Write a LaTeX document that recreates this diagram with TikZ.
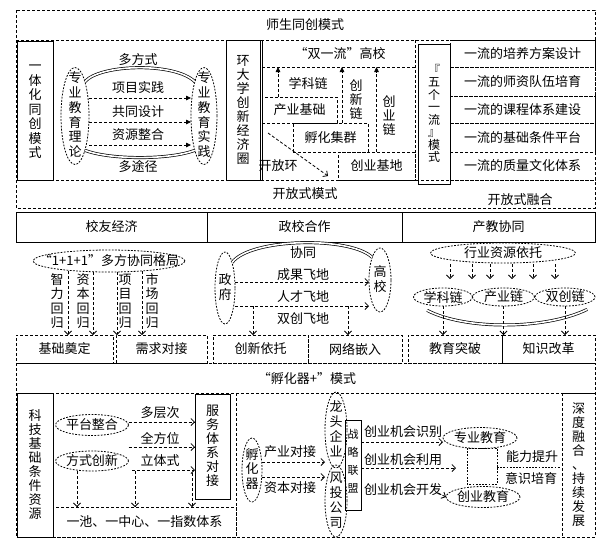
\documentclass[tikz,border=0pt]{standalone}
\usepackage{fontspec}
\setmainfont{Noto Sans CJK SC}
\usetikzlibrary{arrows.meta,shapes.geometric,calc}
\makeatletter
\newcommand\vstk[2][1.5pt]{\vbox{\offinterlineskip\def\vgap{#1}\vstk@a#2\@nil}}
\def\vstk@a#1{\ifx#1\@nil\else\hbox to 1em{\hss\vrule width0pt height.86em depth.14em\smash{#1}\hss}\kern\vgap\expandafter\vstk@a\fi}
\makeatother
\begin{document}
\begin{tikzpicture}[x=1pt,y=-1pt,
  every node/.style={inner sep=0pt,outer sep=0pt,font=\fontsize{13}{14.5}\selectfont},
  vtn/.style={font=\fontsize{12}{13}\selectfont},
  vts/.style={font=\fontsize{11}{13}\selectfont},
  dsh/.style={draw,dash pattern=on 3pt off 2pt,line width=0.8pt},
  sld/.style={draw,line width=1pt},
  dtl/.style={draw,dash pattern=on 1.8pt off 1.4pt,line width=0.8pt},
  ov/.style={ellipse,dtl,minimum width=#1},
  darr/.style={dash pattern=on 3pt off 2pt,line width=0.8pt,-{Straight Barb[length=3.5pt,width=7pt]}},
  farr/.style={dash pattern=on 3pt off 2pt,line width=0.8pt,-{Triangle[length=5pt,width=4.5pt]}},
  dbl/.style={double,double distance=1.6pt,line width=0.7pt},
]
\fill[white] (0,0) rectangle (606,550);
\useasboundingbox (0,0) rectangle (606,550);

% ================= TOP SECTION =================
\draw[dsh] (16,10) rectangle (595,208);
\draw[dsh] (16,40) -- (595,40);
\draw[dsh] (16,180) -- (595,180);
\node (t1) at (305,25) {师生同创模式};
\node (t2) at (305,194) {开放式模式};
\node (t3) at (520,200) {开放式融合};

\node[sld,minimum width=36,minimum height=139] (yt) at (35,110.5) {\vstk{一体化同创模式}};
\node[ov=28,minimum height=97] (zl) at (75,116) {};
\node (zlt) at (zl) {\vstk[1.8pt]{专业教育理论}};
\node[ov=26,minimum height=97] (zs) at (204,116) {};
\node (zst) at (zs) {\vstk[1.8pt]{专业教育实践}};
\node (dfs) at (138,60) {多方式};
\node (xm) at (138,88) {项目实践};
\node (gt) at (138,112) {共同设计};
\node (zy) at (138,135) {资源整合};
\node (dtj) at (138,167) {多途径};
\draw[farr] (zl.east |- 0,98) -- (zs.west |- 0,98);
\draw[farr] (zl.east |- 0,122) -- (zs.west |- 0,122);
\draw[farr] (zl.east |- 0,145) -- (zs.west |- 0,145);
\draw[dbl] (zl.north east) .. controls (100,64) and (175,62) .. (zs.north west);
\draw[dbl] (zl.south east) .. controls (110,160) and (170,160) .. (zs.south west);

\node[sld,minimum width=34,minimum height=140] (hd) at (243,110) {\vstk[1pt]{环大学创新经济圈}};
\draw[sld] (262,40) -- (262,180);
\draw[dsh] (415,40) -- (415,180);
\node[sld,vtn,minimum width=32,minimum height=140] (wg) at (434,114) {\vstk[0.5pt]{『五个一流』模式}};

\node[dsh,minimum width=145,minimum height=27] (f1) at (522.5,53.5) {一流的培养方案设计};
\node[dsh,minimum width=145,minimum height=29] (f2) at (522.5,81.5) {一流的师资队伍培育};
\node[dsh,minimum width=145,minimum height=27] (f3) at (522.5,109.5) {一流的课程体系建设};
\node[dsh,minimum width=145,minimum height=29] (f4) at (522.5,137.5) {一流的基础条件平台};
\node[dsh,minimum width=145,minimum height=28] (f5) at (522.5,166) {一流的质量文化体系};

\node (sy) at (340,54) {“双一流”高校};
\draw[dsh] (262,67) -- (415,67);
\node[dsh,minimum width=75,minimum height=26] (cyjc) at (299.5,110) {产业基础};
\node[dsh,minimum width=75,minimum height=29] (fhjq) at (330.5,137.5) {孵化集群};
\node[dsh,minimum width=77,minimum height=28] (cyjd) at (376.5,166) {创业基地};
\node (xkl) at (308,83) {学科链};
\node (cxl) at (356,100) {\vstk[1pt]{创新链}};
\node (cyl) at (389,116) {\vstk[1pt]{创业链}};
\node (kfh) at (278,166) {开放环};
\draw[farr] ($(cyjc.north west)+(16,0)$) -- ++(0,-30);
\draw[farr] ($(fhjq.north)+(11.5,0)$) -- ++(0,-56);
\draw[farr] (cyjd.north) -- ++(0,-85);
\draw[darr] ($(cyjc.south west)+(6,10)$) -- ($(cyjd.west)+(-10,10)$);

% ================= MIDDLE SECTION =================
\node[sld,minimum width=191,minimum height=30] (h1) at (111.5,227) {校友经济};
\node[sld,minimum width=195,minimum height=30] (h2) at (304.5,227) {政校合作};
\node[sld,minimum width=193,minimum height=30] (h3) at (498.5,227) {产教协同};

\node[dsh,minimum width=97,minimum height=28] (b1) at (64.5,349) {基础奠定};
\node[dsh,minimum width=91,minimum height=28] (b2) at (161.5,349) {需求对接};
\node[dsh,minimum width=95,minimum height=28] (b3) at (260.5,349) {创新依托};
\node[dsh,minimum width=94,minimum height=28] (b4) at (355,349) {网络嵌入};
\node[dsh,minimum width=94,minimum height=28] (b5) at (455,349) {教育突破};
\node[dsh,minimum width=93,minimum height=28] (b6) at (548.5,349) {知识改革};

% 校友经济
\node[ov=152,minimum height=22] (gj) at (109,261) {};
\node (gjt) at (gj) {“1+1+1”多方协同格局};
\node (v1) at (57,302) {\vstk{智力回归}};
\node (v2) at (83,302) {\vstk{资本回归}};
\node (v3) at (125,302) {\vstk{项目回归}};
\node (v4) at (152,302) {\vstk{市场回归}};
\coordinate (a1) at (68,271);
\coordinate (a2) at (93,272);
\coordinate (a3) at (117,272);
\coordinate (a4) at (142,271);
\draw[darr] (a1) -- (a1 |- b1.north);
\draw[darr] (a2) -- (a2 |- b1.north);
\draw[darr] (a3) -- (a3 |- b2.north);
\draw[darr] (a4) -- (a4 |- b2.north);

% 政校合作
\node[ov=20,minimum height=72] (zf) at (225,288) {};
\node (zft) at (zf) {\vstk[2pt]{政府}};
\node[ov=22,minimum height=64] (gx) at (380,280) {};
\node (gxt) at (gx) {\vstk[2pt]{高校}};
\draw[dbl] (zf.north east) .. controls (250,238) and (350,236) .. (gx.north west);
\node (xt) at (303,253) {协同};
\node (cg) at (303,275) {成果飞地};
\node (rc) at (303,297) {人才飞地};
\node (scfd) at (303,319) {双创飞地};
\draw[darr] (zf.east |- 0,282) -- (gx.west |- 0,282);
\draw[darr] (zf.east |- 0,306) -- (gx.west |- 0,306);
\coordinate (c1) at (253,306);
\coordinate (c2) at (348,306);
\draw[darr] (c1) -- (c1 |- b3.north);
\draw[darr] (c2) -- (c2 |- b4.north);

% 产教协同
\node[ov=145,minimum height=20] (hy) at (503,253) {};
\node (hyt) at (hy) {行业资源依托};
\node[ov=59,minimum height=18] (xk) at (443,297) {};
\node (xkt) at (xk) {学科链};
\node[ov=62,minimum height=18] (cy) at (503.5,297) {};
\node (cyt) at (cy) {产业链};
\node[ov=60,minimum height=18] (sc2) at (565,297) {};
\node (sct) at (sc2) {双创链};
\foreach \x in {450,472,490,512,533,555}
  \draw[darr] (\x,264) -- (\x,279);
\draw[dbl] ($(xk.south west)+(5,7)$) .. controls (465,330) and (545,330) .. ($(sc2.south east)+(1,6)$);
\draw[darr] (xk.south) -- (xk.south |- b5.north);
\draw[darr] (cy.south) -- (cy.south |- b5.north);
\draw[darr] (sc2.south) -- (sc2.south |- b6.north);

% ================= BOTTOM SECTION =================
\draw[dsh] (16,363) rectangle (595,537);
\draw[dsh] (16,393) -- (595,393);
\node (fhm) at (307,379) {“孵化器+”模式};
\node[sld,minimum width=36,minimum height=144] (kj) at (35,465) {\vstk[1pt]{科技基础条件资源}};

\node[ov=73,minimum height=21] (pt) at (92,425) {};
\node (ptt) at (pt) {平台整合};
\node[ov=73,minimum height=20] (fs) at (92,461) {};
\node (fst) at (fs) {方式创新};
\node[sld,minimum width=35,minimum height=105] (fw) at (212.5,446.5) {\vstk[1pt]{服务体系对接}};
\node[dsh,minimum width=183,minimum height=30] (yc) at (144.5,522) {一池、一中心、一指数体系};
\draw[dsh] (236,393) -- (236,537);
\node (dcc) at (160,413) {多层次};
\node (qfw) at (160,438) {全方位};
\node (ltsh) at (160,461) {立体式};
\draw[darr] (pt.east |- 0,422) -- (fw.west |- 0,422);
\draw[darr] (pt.east |- 0,447) -- (fw.west |- 0,447);
\coordinate (lt1) at (132,470);
\draw[darr] (lt1) -- (fw.west |- lt1);
\coordinate (d1) at (77,471);
\coordinate (d2) at (135,471);
\coordinate (d3) at (192,473);
\draw[darr] (d1) -- (d1 |- yc.north);
\draw[darr] (d2) -- (d2 |- yc.north);
\draw[darr] (d3) -- (d3 |- yc.north);

\node[ov=20,minimum height=64] (fhq) at (252,470) {};
\node (fhqt) at (fhq) {\vstk[1.5pt]{孵化器}};
\node (cydj) at (290,452) {产业对接};
\node (zbdj) at (290,488) {资本对接};

\node[sld,vts,minimum width=16,minimum height=90] (zlm) at (353,465) {\vstk[7pt]{战略联盟}};
\node[ov=22,minimum height=76] (lt) at (336,430) {};
\node (ltt) at (lt) {\vstk[2pt]{龙头企业}};
\node[ov=22,minimum height=72] (ft) at (336,501) {};
\node (ftt) at (ft) {\vstk[2pt]{风投公司}};
\draw[darr] (fhq.east |- 0,462) -- (lt.west |- 0,462);
\draw[darr] (fhq.east |- 0,477) -- (ft.west |- 0,477);

\node (sb) at (403,432) {创业机会识别};
\node (ly) at (403,460) {创业机会利用};
\node (kf) at (403,490) {创业机会开发};
\node[ov=74,minimum height=21] (zyjy) at (480,438) {};
\node (zyjyt) at (zyjy) {专业教育};
\node[ov=74,minimum height=21] (cyjy) at (483,497) {};
\node (cyjyt) at (cyjy) {创业教育};
\draw[darr] (zlm.east |- 0,442) -- (zyjy.west |- 0,442);
\coordinate (ly2) at (456,468);
\draw[darr] (zlm.east |- ly2) -- (ly2);
\draw[darr] ($(kf.east)+(-4,3)$) -- (cyjy.west);
\draw[dtl] (467,448) rectangle (497,484);
\draw[dtl] (497,467) -- (560,467);
\node (nlts) at (532,457) {能力提升};
\node (yspy) at (531,478) {意识培育};
\node[dsh,minimum width=33,minimum height=144] (sd) at (578.5,465) {\vstk[1pt]{深度融合、持续发展}};
\end{tikzpicture}
\end{document}
